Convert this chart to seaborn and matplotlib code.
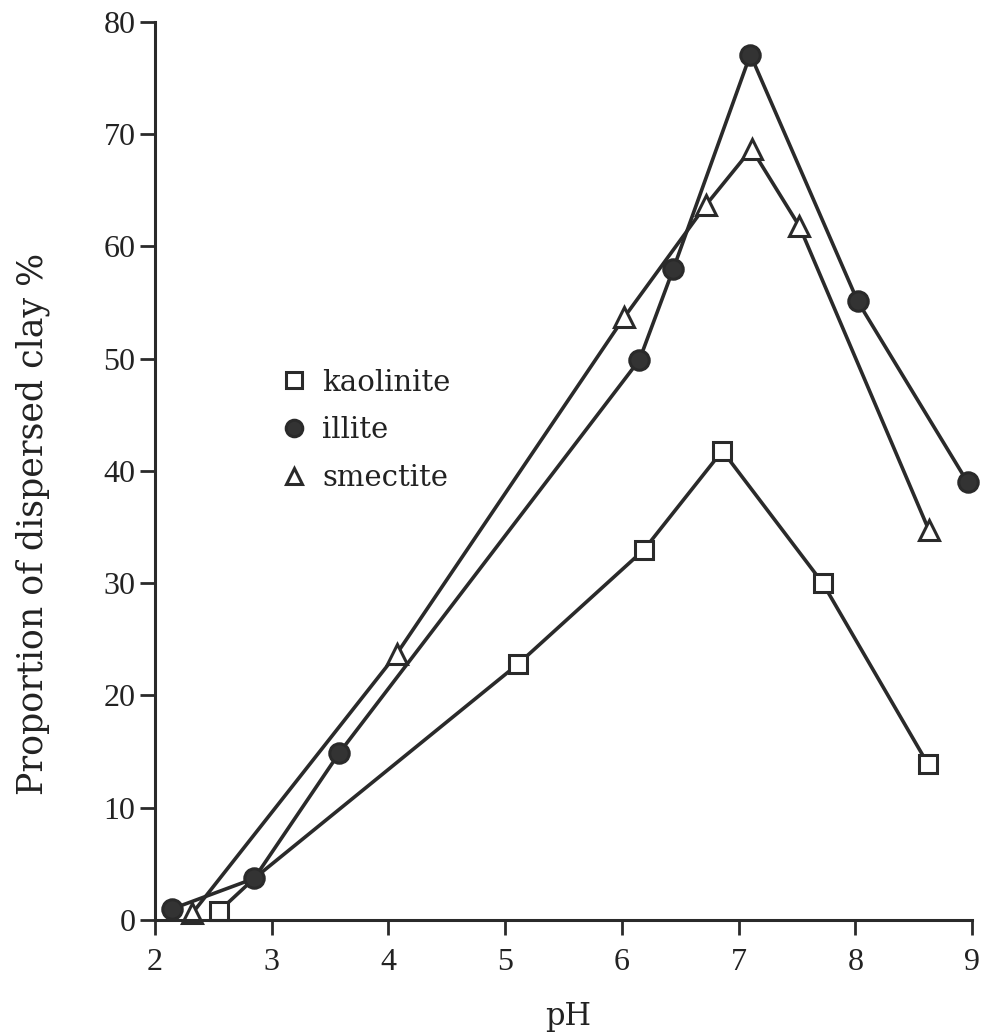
import matplotlib
matplotlib.use("Agg")
import matplotlib.pyplot as plt
import seaborn as sns
import pandas as pd
from matplotlib.lines import Line2D

# values
kaolinite_ph = [2.55, 2.85, 5.11, 6.19, 6.86, 7.72, 8.62]
kaolinite_pct = [0.8, 3.7, 22.8, 33.0, 41.8, 30.0, 13.9]

illite_ph = [2.15, 2.85, 3.58, 6.15, 6.44, 7.10, 8.02, 8.96]
illite_pct = [1.0, 3.7, 14.9, 49.9, 58.0, 77.1, 55.1, 39.0]

smectite_ph = [2.32, 4.07, 6.02, 6.72, 7.11, 7.52, 8.63]
smectite_pct = [0.6, 23.7, 53.7, 63.7, 68.7, 61.8, 34.7]

x_ticks = [2, 3, 4, 5, 6, 7, 8, 9]
y_ticks = [0, 10, 20, 30, 40, 50, 60, 70, 80]

sns.set_style("ticks")
plt.rcParams["font.family"] = ["Liberation Serif", "DejaVu Serif"]
wide_font = ["DejaVu Serif"]

line_col = "#2a2a2a"
fig = plt.figure(figsize=(9.84, 10.36), dpi=100)
ax = fig.add_axes([0.1575, 0.112, 0.8305, 0.8668])

series = [
    ("kaolinite", kaolinite_ph, kaolinite_pct, "s", "white", 13),
    ("illite", illite_ph, illite_pct, "o", "#333333", 14),
    ("smectite", smectite_ph, smectite_pct, "^", "white", 14),
]

for name, xs, ys, mk, fc, ms in series:
    df = pd.DataFrame({"pH": xs, "pct": ys})
    # the kaolinite point at pH 2.85 sits under the illite marker
    every = [i for i in range(len(xs)) if not (name == "kaolinite" and i == 1)]
    sns.lineplot(data=df, x="pH", y="pct", ax=ax, color=line_col, lw=2.6,
                 marker=mk, markersize=ms, markerfacecolor=fc,
                 markeredgecolor=line_col, markeredgewidth=2.2,
                 markevery=every, sort=False, estimator=None, clip_on=False)

ax.set_xlim(2, 9)
ax.set_ylim(0, 80)
ax.set_xticks(x_ticks)
ax.set_yticks(y_ticks)
sns.despine(ax=ax)
for s in ["left", "bottom"]:
    ax.spines[s].set_linewidth(2.2)
    ax.spines[s].set_color(line_col)
ax.tick_params(axis="both", direction="out", length=11, width=2, color=line_col,
               labelsize=23, labelcolor="#222222")
ax.tick_params(axis="x", pad=9)
ax.tick_params(axis="y", pad=3)

ax.set_xlabel("pH", fontsize=22, color="#222222", family=wide_font)
ax.xaxis.set_label_coords(0.505, -0.09)
ax.set_ylabel("Proportion of dispersed clay %", fontsize=25, color="#222222",
              family=wide_font)
ax.yaxis.set_label_coords(-0.128, 0.441)

handles = [Line2D([], [], ls="none", marker=mk, markersize=ms * 0.85,
                  markerfacecolor=fc, markeredgecolor=line_col,
                  markeredgewidth=2.2, label=name)
           for name, xs, ys, mk, fc, ms in series]
leg = ax.legend(handles=handles, loc="upper left", bbox_to_anchor=(0.14, 0.627),
                frameon=False, handlelength=0.9, handletextpad=0.5,
                labelspacing=0.68, borderaxespad=0,
                prop={"family": wide_font, "size": 21})
for t in leg.get_texts():
    t.set_color("#222222")

fig.savefig("out.png", dpi=100)
